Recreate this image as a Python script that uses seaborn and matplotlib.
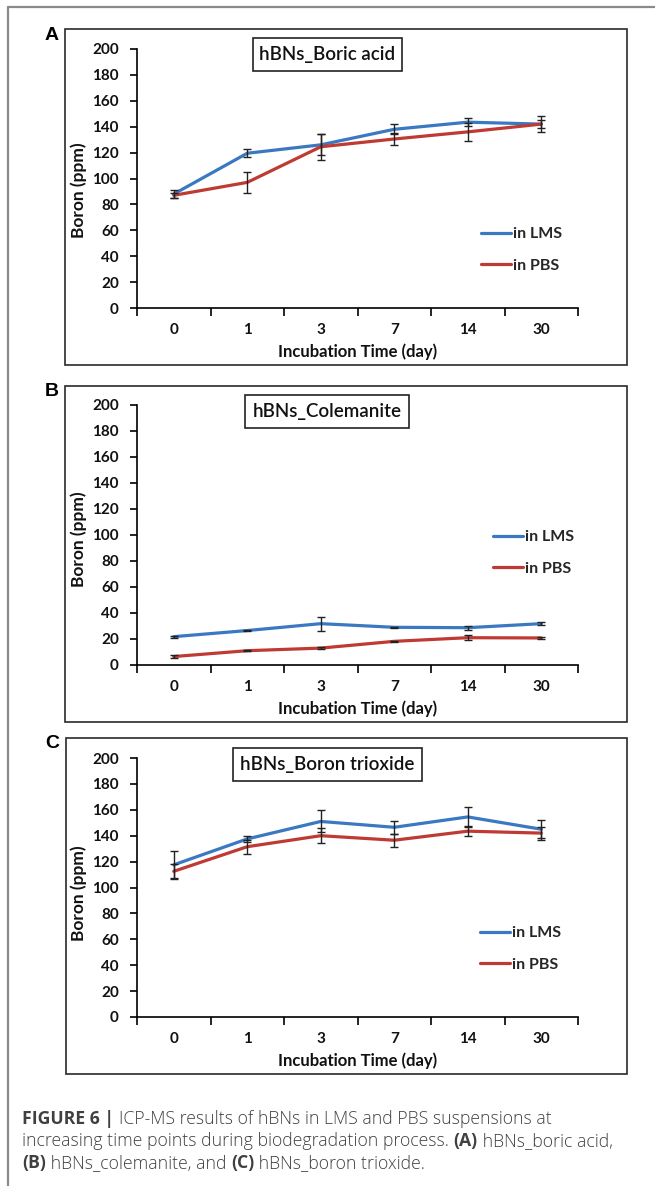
import matplotlib
matplotlib.use("Agg")
import matplotlib.pyplot as plt
import seaborn as sns
import pandas as pd
import numpy as np
from matplotlib.patches import Rectangle
from matplotlib.lines import Line2D

# ---------------- data ----------------
days = ["0", "1", "3", "7", "14", "30"]
media = ["in LMS", "in PBS"]

boric_lms = [88, 119.5, 126, 138, 143.5, 142]
boric_lms_err = [3, 3, 8, 4, 3, 3]
boric_pbs = [87, 97, 124.5, 130.5, 136, 142]
boric_pbs_err = [2, 8, 10, 5, 7, 6]

cole_lms = [21.8, 26.5, 31.8, 29, 28.7, 31.8]
cole_lms_err = [0.8, 0.5, 5.5, 0.5, 1.5, 1]
cole_pbs = [6.5, 11, 13, 18.2, 21, 20.8]
cole_pbs_err = [1, 0.5, 0.5, 0.5, 2, 0.8]

trio_lms = [117.5, 137.5, 151, 146.5, 154.5, 145]
trio_lms_err = [11, 2, 8.5, 5, 8, 7]
trio_pbs = [112.5, 131.5, 140, 136.5, 143.5, 142]
trio_pbs_err = [5.5, 5.5, 6, 5, 4, 5]

titles = ["hBNs_Boric acid", "hBNs_Colemanite", "hBNs_Boron trioxide"]
panel_letters = ["A", "B", "C"]
yticks = [0, 20, 40, 60, 80, 100, 120, 140, 160, 180, 200]

# ---------------- figure ----------------
W, H = 655, 1186
sns.set_theme(style="white")
plt.rcParams["font.family"] = ["Lato", "DejaVu Sans"]
fig = plt.figure(figsize=(W / 100, H / 100), dpi=100)

def fx(px):
    return px / W

def fy(py):
    return 1 - py / H

blue = "#3b78c2"
red = "#bf3a33"
palette = {"in LMS": blue, "in PBS": red}

panels = [
    dict(data=(boric_lms, boric_lms_err, boric_pbs, boric_pbs_err),
         box=(65, 29, 627, 365), ax=(137, 49, 578, 308),
         title_box=(253, 38, 402, 71), legend=(481, 250), letter=(45, 35),
         ylab_y=0.456),
    dict(data=(cole_lms, cole_lms_err, cole_pbs, cole_pbs_err),
         box=(65, 386, 627, 722), ax=(137, 405, 578, 665),
         title_box=(245, 395, 409, 428), legend=(493, 553), letter=(45, 392),
         ylab_y=0.485),
    dict(data=(trio_lms, trio_lms_err, trio_pbs, trio_pbs_err),
         box=(66, 738, 627, 1074), ax=(137, 758, 578, 1017),
         title_box=(233, 748, 422, 781), legend=(480, 949), letter=(45, 744),
         ylab_y=0.479),
]

# outer frame lines
fig.add_artist(Line2D([fx(8), fx(8)], [fy(7), 0], transform=fig.transFigure,
                      color="#8a8a8a", lw=1.6))
fig.add_artist(Line2D([fx(8), 1], [fy(7), fy(7)], transform=fig.transFigure,
                      color="#8a8a8a", lw=1.6))

for i, p in enumerate(panels):
    lms, lms_err, pbs, pbs_err = p["data"]
    x0, y0, x1, y1 = p["box"]
    fig.add_artist(Rectangle((fx(x0), fy(y1)), fx(x1) - fx(x0), fy(y0) - fy(y1),
                             transform=fig.transFigure, fill=False,
                             edgecolor="#2a2a2a", lw=1.2))
    fig.text(fx(p["letter"][0]), fy(p["letter"][1]), panel_letters[i],
             family=["Liberation Sans", "DejaVu Sans"], weight="bold",
             fontsize=14, ha="left", va="center", color="black")

    ax0, ay0, ax1, ay1 = p["ax"]
    ax = fig.add_axes([fx(ax0), fy(ay1), fx(ax1) - fx(ax0), fy(ay0) - fy(ay1)])
    ax.set_facecolor("none")

    df = pd.DataFrame({
        "pos": list(range(len(days))) * 2,
        "day": days * 2,
        "Boron": lms + pbs,
        "err": lms_err + pbs_err,
        "medium": [media[0]] * len(days) + [media[1]] * len(days),
    })
    sns.lineplot(data=df, x="pos", y="Boron", hue="medium", palette=palette,
                 linewidth=2.3, ax=ax, legend=False, errorbar=None, sort=False)
    for m in media:
        sub = df[df["medium"] == m]
        ax.errorbar(sub["pos"], sub["Boron"], yerr=sub["err"], fmt="none",
                    ecolor="#222222", elinewidth=1.0, capsize=3, capthick=1.0,
                    zorder=3)

    ax.set_xlim(-0.5, len(days) - 0.5)
    ax.set_ylim(0, 200)
    ax.set_yticks(yticks)
    ax.set_yticklabels([str(t) for t in yticks])
    ax.set_xticks(np.arange(-0.5, len(days), 1.0))
    ax.set_xticklabels([])
    ax.set_xticks(range(len(days)), minor=True)
    ax.set_xticklabels(days, minor=True)
    ax.tick_params(axis="x", which="major", direction="out", length=6,
                   width=1.2, color="black", bottom=True)
    ax.tick_params(axis="x", which="minor", length=0, pad=11,
                   labelsize=11, labelcolor="#111111")
    ax.tick_params(axis="y", direction="out", length=5, width=1.2,
                   color="black", left=True, pad=8,
                   labelsize=11, labelcolor="#111111")
    for lab in ax.get_xticklabels(minor=True) + ax.get_yticklabels():
        lab.set_fontweight("bold")
    for s in ["top", "right"]:
        ax.spines[s].set_visible(False)
    for s in ["left", "bottom"]:
        ax.spines[s].set_color("black")
        ax.spines[s].set_linewidth(1.2)
    ax.grid(False)

    ax.set_xlabel("Incubation Time (day)", fontsize=12, weight="bold",
                  color="#111111", va="center")
    ax.xaxis.set_label_coords(0.5, -0.17)
    ax.set_ylabel("Boron (ppm)", fontsize=12.5, weight="bold", color="#111111",
                  va="center")
    ax.yaxis.set_label_coords(-0.1315, p["ylab_y"])

    # title box
    tx0, ty0, tx1, ty1 = p["title_box"]
    fig.add_artist(Rectangle((fx(tx0), fy(ty1)), fx(tx1) - fx(tx0), fy(ty0) - fy(ty1),
                             transform=fig.transFigure, fill=False,
                             edgecolor="#222222", lw=1.2))
    fig.text((fx(tx0) + fx(tx1)) / 2, (fy(ty0) + fy(ty1)) / 2, titles[i],
             fontsize=13.5, weight="semibold", ha="center", va="center",
             color="#111111")

    handles = [Line2D([], [], color=palette[m], lw=2.3) for m in media]
    ax.legend(handles, media, loc="center left",
              bbox_to_anchor=(fx(p["legend"][0]), fy(p["legend"][1])),
              bbox_transform=fig.transFigure, frameon=False, borderaxespad=0,
              borderpad=0, handlelength=1.9, handletextpad=0.12,
              labelspacing=1.1, prop={"family": "Lato", "weight": "bold",
                                      "size": 11.5})

# caption
cap_family = ["Open Sans", "DejaVu Sans"]
cap_color = "#404040"
cap_size = 12.7
def cap_line(y, parts):
    x = fx(22)
    renderer = fig.canvas.get_renderer()
    for txt, bold in parts:
        t = fig.text(x, fy(y), txt, family=cap_family, fontsize=cap_size,
                     weight="bold" if bold else "light", color=cap_color,
                     ha="left", va="baseline")
        bb = t.get_window_extent(renderer=renderer)
        x += bb.width / W

cap_line(1124, [("FIGURE 6 | ", True),
                ("ICP-MS results of hBNs in LMS and PBS suspensions at", False)])
cap_line(1146, [("increasing time points during biodegradation process. ", False),
                ("(A)", True), (" hBNs_boric acid,", False)])
cap_line(1168, [("(B)", True), (" hBNs_colemanite, and ", False),
                ("(C)", True), (" hBNs_boron trioxide.", False)])

fig.savefig("out.png", dpi=100)
